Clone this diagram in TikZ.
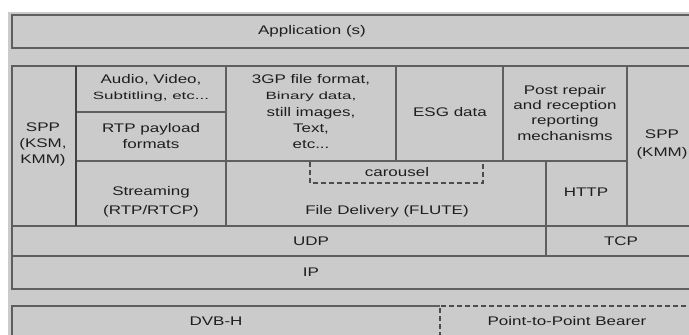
\documentclass[tikz,border=0pt]{standalone}
\usepackage{fontspec}
\setmainfont{Liberation Sans}
\usepackage{graphicx}
\definecolor{bgc}{RGB}{203,203,203}
\definecolor{lnc}{RGB}{95,95,95}
\definecolor{txc}{RGB}{30,30,30}
\tikzset{
  ln/.style={draw=lnc, line width=1.3pt},
  thickln/.style={draw=lnc!70!black, line width=2pt},
  dsh/.style={draw=lnc!80!black, line width=1.3pt, dash pattern=on 5pt off 3pt},
  lbl/.style={font=\fontsize{12.5}{16}\selectfont, text=txc, xscale=1.36, align=center, inner sep=0pt},
  sml/.style={font=\fontsize{10.5}{12}\selectfont, text=txc, xscale=1.62, align=center, inner sep=0pt}
}
\begin{document}
\begin{tikzpicture}[x=1pt,y=-1pt]
\useasboundingbox (0,0) rectangle (689,335);
\fill[white] (0,0) rectangle (689,335);
\clip (0,0) rectangle (689,335);
\fill[bgc] (8,12) rectangle (700,340);
% application
\draw[ln] (12,15) rectangle (700,48);
% main stack
\draw[ln] (12,66) rectangle (700,289);
\draw[ln] (226,66) -- (226,226);
\draw[ln] (76,112) -- (226,112);
\draw[ln] (76,161) -- (627,161);
\draw[ln] (396,66) -- (396,161);
\draw[ln] (503,66) -- (503,161);
\draw[ln] (627,66) -- (627,226);
\draw[ln] (546,161) -- (546,256);
\draw[ln] (12,226) -- (700,226);
\draw[ln] (12,256) -- (700,256);
\draw[thickln] (76,66) -- (76,226);
% carousel
\draw[dsh] (310,162) -- (310,183) -- (483,183) -- (483,162);
% bearers
\draw[ln] (12,345) -- (12,306) -- (440,306);
\draw[dsh] (440,345) -- (440,306) -- (700,306);
% texts
\node[lbl] (app) at (312,31) {Application (s)};
\node[lbl] (sppl) at (43,144) {SPP\\(KSM,\\KMM)};
\node[lbl] (av) at (151,80) {Audio, Video,};
\node[sml] (avs) at (151,97) {Subtitling, etc...};
\node[lbl] (rtp) at (151,136) {RTP payload\\formats};
\node[lbl] (strm) at (151,202) {Streaming\\[3pt](RTP/RTCP)};
\node[lbl] (gp) at (311,80) {3GP file format,};
\node[sml] (gps) at (311,97) {Binary data,};
\node[lbl] (gpt) at (311,128) {still images,\\Text,\\etc...};
\node[lbl] (esg) at (450,112) {ESG data};
\node[lbl, font=\fontsize{12.5}{15}\selectfont] (post) at (565,113) {Post repair\\and reception\\reporting\\[1pt]mechanisms};
\node[lbl] (sppr) at (662,144) {SPP\\[2pt](KMM)};
\node[lbl] (car) at (397,172) {carousel};
\node[lbl] (flute) at (387,211) {File Delivery (FLUTE)};
\node[lbl] (http) at (586,192) {HTTP};
\node[lbl] (udp) at (311,241) {UDP};
\node[lbl] (tcp) at (621,241) {TCP};
\node[lbl] (ip) at (311,272) {IP};
\node[lbl] (dvb) at (216,321) {DVB-H};
\node[lbl] (p2p) at (567,321) {Point-to-Point Bearer};
\end{tikzpicture}
\end{document}
